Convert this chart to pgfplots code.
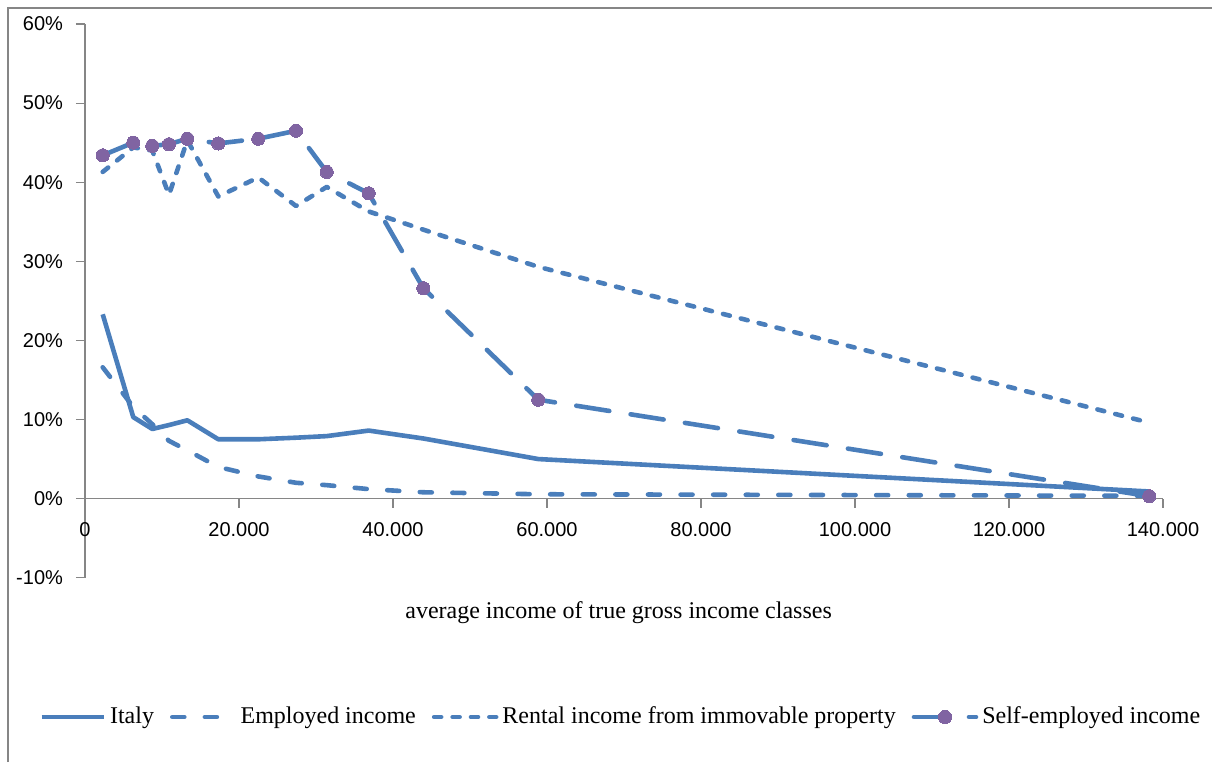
\documentclass[border=0pt]{standalone}
\usepackage{pgfplots}
\pgfplotsset{compat=1.18}
\usepackage{fontspec}
\setmainfont{Liberation Serif}
\newfontfamily\ticksans{Liberation Sans}
\definecolor{lineblue}{HTML}{4A7EBB}
\definecolor{markpurple}{HTML}{8064A2}
\definecolor{axisgray}{HTML}{868686}

\begin{document}
\begin{tikzpicture}[x=1pt,y=1pt]
\begin{axis}[
  at={(42.5pt,92.15pt)}, anchor=south west,
  scale only axis, width=539pt, height=276.85pt,
  xmin=0, xmax=140000, ymin=-10, ymax=60,
  axis x line=middle, axis y line=left,
  axis line style={axisgray, line width=0.6pt, -},
  tick style={axisgray, line width=0.6pt},
  tick align=outside, major tick length=4.5pt,
  hide obscured x ticks=false, hide obscured y ticks=false,
  xtick={0,20000,...,140000}, ytick={-10,0,...,60},
  minor tick num=0,
  scaled x ticks=false,
  /pgf/number format/assume math mode=true,
  tick label style={font=\ticksans\fontsize{10}{12}\selectfont, black},
  xticklabel={\pgfmathprintnumber[fixed,precision=0,1000 sep={.}]{\tick}},
  yticklabel={\pgfmathprintnumber{\tick}\%},
  xticklabel style={yshift=-4pt},
  yticklabel style={xshift=-3pt},
  xlabel={average income of true gross income classes},
  every axis x label/.style={at={(axis description cs:0.495,-0.0638)}, anchor=center, font=\fontsize{12}{14}\selectfont},
  legend columns=4,
  legend style={at={(axis description cs:0.498,-0.2516)}, anchor=center, draw=none, fill=none,
    font=\fontsize{12}{14}\selectfont,
    /tikz/every even column/.append style={column sep=6pt}},
  legend image code/.code={\draw[mark repeat=2,mark phase=2,#1] plot coordinates {(0pt,0pt) (15.5pt,0pt) (31pt,0pt)};},
  clip=false,
]
% Italy, all incomes
\addplot[lineblue, line width=2.3pt, line join=round] coordinates {
  (2300,23.3) (6270,10.3) (8740,8.8) (10910,9.3) (13290,9.9) (17310,7.5)
  (22510,7.5) (27400,7.7) (31390,7.9) (36840,8.6) (43940,7.6) (58870,5.0) (138220,0.9)};
\addlegendentry{Italy}
% employed income
\addplot[lineblue, line width=2.3pt, line cap=round, line join=round, dash pattern=on 6pt off 10.3pt] coordinates {
  (2300,16.6) (6270,11.6) (8740,9.4) (10910,7.3) (13290,6.1) (17310,4.0)
  (22510,2.8) (27400,2.0) (31390,1.7) (36840,1.2) (43940,0.8) (58870,0.55) (138220,0.35)};
\addlegendentry{Employed income}
% rental income
\addplot[lineblue, line width=2.3pt, line cap=round, line join=round, dash pattern=on 3.5pt off 5.7pt] coordinates {
  (2300,41.3) (6270,44.4) (8740,44.0) (10910,38.4) (13290,45.3) (17310,38.2)
  (22510,40.6) (27400,37.0) (31390,39.4) (36840,36.3) (43940,34.0) (58870,29.3) (138220,9.6)};
\addlegendentry{Rental income from immovable property}
% self-employed income
\addplot[lineblue, line width=2.3pt, line cap=round, line join=round, dash pattern=on 16.7pt off 10.8pt,
  mark=*, mark size=3.3pt, mark options={solid, fill=markpurple, draw=markpurple, line width=0pt}] coordinates {
  (2300,43.4) (6270,45.0) (8740,44.6) (10910,44.8) (13290,45.5) (17310,44.9)
  (22510,45.5) (27400,46.5) (31390,41.3) (36840,38.6) (43940,26.6) (58870,12.5) (138220,0.3)};
\addlegendentry{Self-employed income}
\end{axis}
\pgfresetboundingbox
\useasboundingbox (0,0) rectangle (606,381);
\draw[axisgray, line width=1.25pt] (4,0) -- (4,377) -- (606,377);
\end{tikzpicture}
\end{document}
